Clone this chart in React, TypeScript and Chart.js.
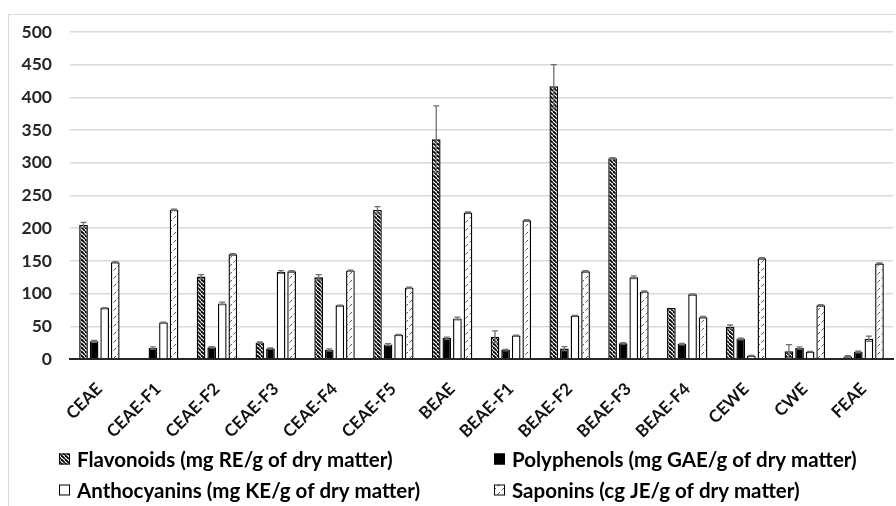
import React, { useEffect, useRef } from "react";
import { Chart, registerables } from "chart.js";

Chart.register(...registerables);

const categories = ["CEAE", "CEAE-F1", "CEAE-F2", "CEAE-F3", "CEAE-F4", "CEAE-F5", "BEAE", "BEAE-F1", "BEAE-F2", "BEAE-F3", "BEAE-F4", "CEWE", "CWE", "FEAE"];

const flavonoids = [205, 0, 126, 25, 125, 228, 336, 34, 417, 307, 78, 49, 12, 4];
const flavonoidsErr = [4, 0, 3, 1, 4, 5, 51, 9, 33, 1, 0, 3, 10, 1];

const polyphenols = [27, 17, 18, 16, 14, 22, 32, 14, 16, 24, 23, 31, 17, 11];
const polyphenolsErr = [1.5, 1.5, 1, 1, 1.5, 1.5, 1.5, 0.5, 3, 1, 1, 1, 1.5, 1];

const anthocyanins = [78, 56, 85, 133, 82, 37, 62, 36, 66, 125, 99, 5, 11, 31];
const anthocyaninsErr = [0.5, 0.5, 2, 2, 0.5, 0.5, 2, 0.5, 0.5, 2, 0.5, 0.5, 0.5, 4];

const saponins = [148, 228, 160, 134, 135, 109, 224, 212, 134, 103, 64, 154, 82, 146];
const saponinsErr = [1, 1, 1, 1, 1, 1, 1, 1, 1, 1, 1, 1, 1, 1];

const seriesLabels = [
  "Flavonoids (mg RE/g of dry matter)",
  "Polyphenols (mg GAE/g of dry matter)",
  "Anthocyanins (mg KE/g of dry matter)",
  "Saponins (cg JE/g of dry matter)",
];

const yTicks = [0, 50, 100, 150, 200, 250, 300, 350, 400, 450, 500];

const FONT = "Lato, 'DejaVu Sans', sans-serif";

function makeHatch(): CanvasPattern | string {
  const s = 4;
  const c = document.createElement("canvas");
  c.width = s;
  c.height = s;
  const g = c.getContext("2d");
  if (!g) return "#555";
  g.fillStyle = "#fff";
  g.fillRect(0, 0, s, s);
  g.strokeStyle = "#000";
  g.lineWidth = 1.8;
  for (const o of [-s, 0, s]) {
    g.beginPath();
    g.moveTo(o, 0);
    g.lineTo(o + s, s);
    g.stroke();
  }
  return g.createPattern(c, "repeat") as CanvasPattern;
}

function makeDashed(): CanvasPattern | string {
  const s = 8;
  const c = document.createElement("canvas");
  c.width = s;
  c.height = s;
  const g = c.getContext("2d");
  if (!g) return "#eee";
  g.fillStyle = "#fff";
  g.fillRect(0, 0, s, s);
  g.strokeStyle = "#555";
  g.lineWidth = 1;
  g.beginPath();
  g.moveTo(0.5, 7.5);
  g.lineTo(3, 5);
  g.moveTo(4.5, 3.5);
  g.lineTo(7, 1);
  g.stroke();
  return g.createPattern(c, "repeat") as CanvasPattern;
}

export default function App() {
  const ref = useRef<HTMLCanvasElement>(null);

  useEffect(() => {
    if (!ref.current) return;
    const hatch = makeHatch();
    const dashed = makeDashed();
    const errs = [flavonoidsErr, polyphenolsErr, anthocyaninsErr, saponinsErr];

    const errorBars = {
      id: "errorBars",
      afterDatasetsDraw(chart: any) {
        const ctx = chart.ctx;
        const y = chart.scales.y;
        ctx.save();
        ctx.strokeStyle = "#6f6f6f";
        ctx.lineWidth = 1.3;
        chart.data.datasets.forEach((ds: any, di: number) => {
          const meta = chart.getDatasetMeta(di);
          meta.data.forEach((el: any, i: number) => {
            const v = ds.data[i];
            const e = errs[di][i];
            if (!e || !v) return;
            const x = el.x;
            const top = y.getPixelForValue(v + e);
            const bot = y.getPixelForValue(v - e);
            ctx.beginPath();
            ctx.moveTo(x, top);
            ctx.lineTo(x, bot);
            ctx.moveTo(x - 3, top);
            ctx.lineTo(x + 3, top);
            ctx.moveTo(x - 3, bot);
            ctx.lineTo(x + 3, bot);
            ctx.stroke();
          });
        });
        ctx.restore();
      },
    };

    const legendPlugin = {
      id: "customLegend",
      afterDraw(chart: any) {
        const ctx = chart.ctx;
        const items = [
          { x: 50, y: 444, ds: 0 },
          { x: 485, y: 444, ds: 1 },
          { x: 50, y: 475, ds: 2 },
          { x: 485, y: 475, ds: 3 },
        ];
        ctx.save();
        items.forEach((it) => {
          const ds = chart.data.datasets[it.ds];
          ctx.fillStyle = ds.backgroundColor;
          ctx.fillRect(it.x, it.y - 5.5, 11, 11);
          ctx.strokeStyle = "#000";
          ctx.lineWidth = 1;
          ctx.strokeRect(it.x + 0.5, it.y - 5, 10, 10);
          ctx.fillStyle = "#000";
          ctx.font = "bold 20.5px " + FONT;
          ctx.textBaseline = "middle";
          ctx.textAlign = "left";
          ctx.fillText(ds.label, it.x + 18, it.y + 1);
        });
        ctx.restore();
      },
    };

    const chart = new Chart(ref.current, {
      type: "bar",
      data: {
        labels: categories,
        datasets: [
          { label: seriesLabels[0], data: flavonoids, backgroundColor: hatch as any, borderColor: "#000", borderWidth: 1.4 },
          { label: seriesLabels[1], data: polyphenols, backgroundColor: "#000", borderColor: "#000", borderWidth: 1.4 },
          { label: seriesLabels[2], data: anthocyanins, backgroundColor: "#fff", borderColor: "#000", borderWidth: 1.4 },
          { label: seriesLabels[3], data: saponins, backgroundColor: dashed as any, borderColor: "#000", borderWidth: 1.4 },
        ],
      },
      options: {
        animation: false,
        responsive: false,
        maintainAspectRatio: false,
        devicePixelRatio: 1,
        datasets: { bar: { categoryPercentage: 0.72, barPercentage: 0.82 } },
        layout: { padding: { top: 17, right: 3, left: 0, bottom: 57 } },
        plugins: {
          legend: { display: false },
          tooltip: { enabled: false },
        },
        scales: {
          x: {
            grid: { display: false, drawTicks: false },
            border: { display: true, color: "#262626", width: 2 },
            ticks: {
              autoSkip: false,
              maxRotation: 45,
              minRotation: 45,
              padding: 20,
              color: "#111",
              font: { family: FONT, size: 17, weight: "bold" },
            },
            afterFit(scale: any) {
              scale.height = 90;
              scale.paddingLeft = 0;
              scale.paddingRight = 0;
            },
          },
          y: {
            min: 0,
            max: 500,
            afterBuildTicks(scale: any) {
              scale.ticks = yTicks.map((v) => ({ value: v }));
            },
            grid: { color: "#d9d9d9", lineWidth: 1.5, drawTicks: false },
            border: { display: false },
            ticks: {
              padding: 18,
              color: "#262626",
              font: { family: FONT, size: 17.5, weight: "bold" },
            },
            afterFit(scale: any) {
              scale.width = 61;
              scale.paddingTop = 0;
              scale.paddingBottom = 0;
            },
          },
        },
      },
      plugins: [errorBars, legendPlugin],
    });
    return () => chart.destroy();
  }, []);

  return (
    <div
      style={{
        position: "fixed",
        left: 8,
        top: 14,
        width: 887,
        height: 491,
        borderLeft: "1px solid #d9d9d9",
        borderTop: "1px solid #d9d9d9",
        background: "#fff",
      }}
    >
      <canvas ref={ref} width={887} height={491} style={{ display: "block", width: 887, height: 491 }} />
    </div>
  );
}
